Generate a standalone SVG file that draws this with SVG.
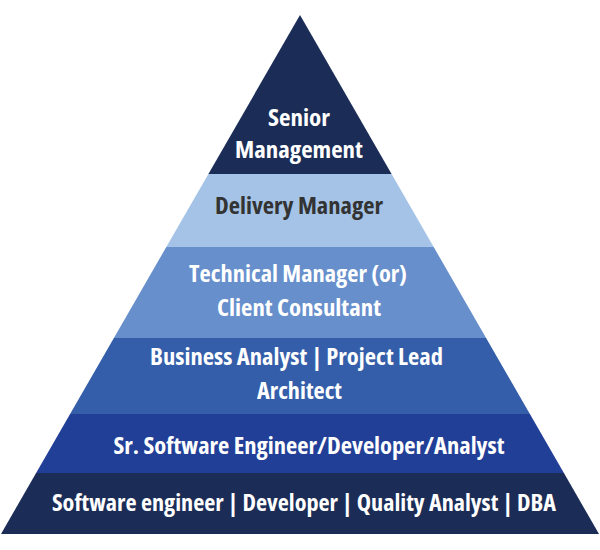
<svg xmlns="http://www.w3.org/2000/svg" width="600" height="550" viewBox="0 0 600 550">
<style>
.t{font-family:"Open Sans","DejaVu Sans Condensed",sans-serif;font-stretch:75%;font-weight:bold;font-size:23px;text-anchor:middle;fill:#ffffff}
.d{fill:#333333}
</style>
<rect width="600" height="550" fill="#ffffff"/>
<g id="senior-management">
<polygon points="300,15 391.6,174 208.4,174" fill="#1b2d57"/>
<text class="t" x="299" y="126" textLength="62" lengthAdjust="spacingAndGlyphs">Senior</text>
<text class="t" x="299" y="158" textLength="128" lengthAdjust="spacingAndGlyphs">Management</text>
</g>
<g id="delivery-manager">
<polygon points="208.4,174 391.6,174 433.7,247 166.3,247" fill="#a4c3e6"/>
<text class="t d" x="299" y="214" textLength="168" lengthAdjust="spacingAndGlyphs">Delivery Manager</text>
</g>
<g id="technical-manager">
<polygon points="166.3,247 433.7,247 486.1,338 113.9,338" fill="#668fcc"/>
<text class="t" x="298" y="282" textLength="218" lengthAdjust="spacingAndGlyphs">Technical Manager (or)</text>
<text class="t" x="299" y="316" textLength="164" lengthAdjust="spacingAndGlyphs">Client Consultant</text>
</g>
<g id="business-analyst">
<polygon points="113.9,338 486.1,338 529.9,414 70.1,414" fill="#345ea9"/>
<text class="t" x="296.5" y="365" textLength="293" lengthAdjust="spacingAndGlyphs">Business Analyst | Project Lead</text>
<text class="t" x="299.5" y="399" textLength="85" lengthAdjust="spacingAndGlyphs">Architect</text>
</g>
<g id="sr-software-engineer">
<polygon points="70.1,414 529.9,414 563.9,473 36.1,473" fill="#223f98"/>
<text class="t" x="309" y="454" textLength="391" lengthAdjust="spacingAndGlyphs">Sr. Software Engineer/Developer/Analyst</text>
</g>
<g id="software-engineer">
<polygon points="36.1,473 563.9,473 599,534 1,534" fill="#1b2d57"/>
<text class="t" x="304" y="511" textLength="504" lengthAdjust="spacingAndGlyphs">Software engineer | Developer | Quality Analyst | DBA</text>
</g>
<g id="connectors"/>
</svg>
